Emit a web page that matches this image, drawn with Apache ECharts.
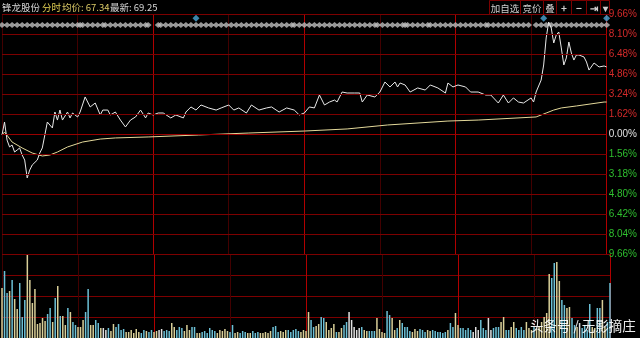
<!DOCTYPE html>
<html><head><meta charset="utf-8">
<script src="https://cdn.jsdelivr.net/npm/echarts@6/dist/echarts.min.js"></script>
<style>html,body{margin:0;padding:0;background:#000;}#c{width:640px;height:338px;}</style>
</head><body><div id="c"></div>
<script>
// ---- data ----
const stockName = '锋龙股份';
const modeText = '分时';
const avgPriceText = '67.34';
const lastPriceText = '69.25';
const watermarkText = '头条号 / 无影摘庄';

// price line (minute index, % change)
const priceMinutes = [0,1,2,3,4,5,6,7,8,9,10,11,12,14,15,16,17,18,20,21,22,23,24,26,27,28,30,31,33,35,37,39,40,42,43,45,47,49,51,53,55,57,58,60,62,64,67,69,72,73,75,77,79,82,85,87,90,92,94,97,99,102,105,107,110,113,116,118,120,122,124,126,128,130,132,133,135,137,140,142,143,145,148,150,152,154,156,157,158,160,162,165,168,170,173,176,177,179,181,184,186,189,192,194,197,199,201,203,205,207,210,211,212,214,215,216,217,218,219,220,221,222,223,224,225,226,227,228,229,231,232,233,235,237,239,240];
const pricePct = [-0.08,0.97,-0.49,-1.05,-0.89,-1.46,-1.30,-1.13,-1.70,-2.11,-3.56,-2.92,-2.51,-2.11,-1.54,-1.13,-0.08,0.97,0.49,1.78,1.13,1.94,1.13,1.78,1.30,1.70,1.38,1.78,3.00,2.19,2.51,1.54,1.94,1.94,1.54,1.78,1.13,0.57,1.13,1.38,1.94,1.30,1.70,1.54,1.70,1.70,1.30,1.54,1.30,1.78,2.19,1.94,2.35,2.11,1.94,2.11,2.35,1.94,2.11,1.70,2.35,1.94,2.11,2.19,1.78,2.11,1.94,1.54,1.70,2.19,2.11,3.16,2.35,2.59,2.75,2.59,3.40,3.32,3.32,3.32,2.59,3.16,3.00,3.40,4.21,3.81,4.21,3.81,4.13,3.97,3.40,3.73,3.56,3.97,3.73,3.32,4.13,3.81,3.97,3.81,3.40,3.40,3.16,3.16,2.51,3.16,2.51,2.92,2.59,2.51,2.92,2.59,3.40,4.37,5.59,7.78,9.07,8.59,7.37,8.02,8.26,6.97,5.59,6.16,7.45,6.56,5.99,6.40,6.40,6.24,5.83,5.18,5.75,5.43,5.51,5.43];

// average price line
const avgMinutes = [0,1,4,8,12,16,19,22,26,32,39,45,58,78,98,120,137,153,177,189,212,216,219,222,228,239,240];
const avgPct = [-0.08,0.16,-0.65,-1.13,-1.54,-1.78,-1.70,-1.46,-1.05,-0.65,-0.41,-0.32,-0.24,-0.08,0.08,0.24,0.41,0.73,1.05,1.13,1.38,1.70,1.94,2.11,2.27,2.59,2.59];

// volume per minute (0..240)
const volumes = [
50,67,45,47,58,39,29,55,21,38,84,58,35,49,14,15,20,17,24,30,16,40,52,22,22,13,30,26,16,13,11,11,18,26,49,13,13,18,15,
10,10,8,10,7,14,11,14,8,9,6,6,8,5,9,6,5,8,7,6,8,6,7,8,9,7,8,7,15,11,8,11,10,7,13,8,11,11,5,5,6,7,5,10,8,7,5,8,7,9,7,6,13,5,6,5,7,6,5,5,7,5,6,5,5,6,5,7,11,12,6,7,6,8,8,6,8,9,7,6,8,7,
26,18,11,12,14,
21,20,16,8,10,14,6,6,10,13,16,26,18,11,8,10,11,8,7,7,7,7,20,9,6,5,27,23,20,8,10,18,15,11,11,7,6,9,7,9,8,6,8,7,8,7,6,6,5,6,8,15,11,25,13,10,10,8,10,8,6,11,8,18,10,8,20,8,10,11,11,16,21,8,8,11,16,10,8,11,8,16,10,8,11,9,11,16,21,25,64,60,75,76,57,38,33,30,31,20,13,11,15,10,13,8,34,11,10,30,30,38,11,16,55
];

// right-axis tick labels, bottom to top
const pctTickLabels = ['9.66%','8.04%','6.42%','4.80%','3.18%','1.56%','0.00%','1.62%','3.24%','4.86%','6.48%','8.10%','9.66%'];

// event marker row (minute ranges) and highlighted news markers
const markerStarts = [0,28,32,43,47,51,57,62,65,105,116,120,151,161,172,195,212];
const markerEnds   = [26,31,41,45,49,55,58,63,103,115,118,149,160,170,193,209,240];
const newsMinutes = [77,215,240];

const headerButtons = ['加自选','竞价','叠','+','−','⇥','▾'];

// ---- build ----
const STEP = 1.62, YMAX = 9.72;
const priceData = priceMinutes.map((m,i)=>[m,pricePct[i]]);
const avgData = avgMinutes.map((m,i)=>[m,avgPct[i]]);

function dirAt(m){
  let i = 0;
  while (i < priceMinutes.length-2 && priceMinutes[i+1] <= m) i++;
  const d = pricePct[i+1]-pricePct[i];
  return d > 0 ? 1 : (d < 0 ? -1 : 0);
}
const UP='#d9cf98', DN='#6cc0d6', FLAT='#e2e2e2';
const volData = volumes.map((v,m)=>{
  const d = dirAt(m);
  return {value:[m,v], itemStyle:{color: d>0?UP:(d<0?DN:FLAT)}};
});

const markerData = [];
markerStarts.forEach((s,k)=>{
  const e = markerEnds[k];
  for (let m=s; m<=e; m+=2) markerData.push([m, 8.83]);
  if ((e-s)%2) markerData.push([e, 8.83]);
});
const newsData = newsMinutes.map(m=>[m, 9.38]);

const vColors = ['#420000','#420000','#b00000','#420000','#b00000','#420000','#b00000','#420000','#b00000'];
const hColors = pctTickLabels.map((t,i)=> i===6 ? '#9a0000' : '#7c0000');

const labelFont = '"Liberation Sans",Arial,sans-serif';

// header graphics
const cjk = '"Noto Sans CJK SC","Liberation Sans",sans-serif';
const hf = '9.5px ';
const graphics = [
  {type:'text', left:2, top:3, style:{text:stockName, fill:'#d6d6d6', font:hf+cjk}},
  {type:'text', left:42, top:3, style:{text:modeText, fill:'#e2cf52', font:hf+cjk}},
  {type:'text', left:62, top:3, style:{text:'均价: '+avgPriceText, fill:'#d9c866', font:hf+cjk}},
  {type:'text', left:110, top:3, style:{text:'最新: '+lastPriceText, fill:'#d6d6d6', font:hf+cjk}},
  {type:'text', x:530, y:319, z:100, style:{text:watermarkText, fill:'rgba(255,255,255,0.92)', font:'13.5px '+cjk}}
];
const btnX = [489,520,543,556,571,586,600];
const btnW = [31,23,13,15,15,14,9];
headerButtons.forEach((b,i)=>{
  graphics.push({type:'rect', shape:{x:btnX[i]+0.5,y:0.5,width:btnW[i],height:14}, style:{fill:'none',stroke:'#7a0000',lineWidth:1}, z:1});
  const bold = (b==='+'||b==='−'||b==='⇥'||b==='▾');
  graphics.push({type:'text', x:btnX[i]+btnW[i]/2+0.5, y:8, z:1, style:{text:b, fill:'#cfcfcf', align:'center', verticalAlign:'middle', font:(bold?'bold 10px ':'9.5px ')+cjk}});
});

const chart = echarts.init(document.getElementById('c'), null, {renderer:'canvas'});
chart.setOption({
  animation:false,
  backgroundColor:'#000',
  graphic: graphics,
  grid:[
    {left:2, right:30, top:14, height:240},
    {left:2, right:30, top:254, height:84}
  ],
  xAxis:[
    {gridIndex:0, type:'value', min:0, max:240, interval:30, axisLine:{show:false}, axisTick:{show:false}, axisLabel:{show:false},
     splitLine:{show:true, lineStyle:{color:vColors, width:1}}},
    {gridIndex:1, type:'value', min:0, max:240, interval:30, axisLine:{show:false}, axisTick:{show:false}, axisLabel:{show:false},
     splitLine:{show:true, lineStyle:{color:vColors, width:1}}}
  ],
  yAxis:[
    {gridIndex:0, type:'value', position:'right', min:-YMAX, max:YMAX, interval:STEP,
     axisLine:{show:false}, axisTick:{show:false}, z:10,
     splitLine:{show:true, lineStyle:{color:hColors, width:1}},
     axisLabel:{margin:2, fontSize:10, fontFamily:labelFont, align:'left',
       formatter:(v)=>{
         const i = Math.round((v+YMAX)/STEP);
         const t = pctTickLabels[i];
         if (i>6) return '{u|'+t+'}';
         if (i<6) return '{d|'+t+'}';
         return '{z|'+t+'}';
       },
       rich:{u:{color:'#d42a2a',fontSize:10,fontFamily:labelFont}, d:{color:'#2fbf2f',fontSize:10,fontFamily:labelFont}, z:{color:'#e0e0e0',fontSize:10,fontFamily:labelFont}}
     }},
    {gridIndex:1, type:'value', min:0, max:84, interval:21, position:'right',
     axisLine:{show:false}, axisTick:{show:false}, axisLabel:{show:false},
     splitLine:{show:true, lineStyle:{color:'#7c0000', width:1}}}
  ],
  series:[
    {type:'scatter', xAxisIndex:0, yAxisIndex:0, data:markerData, symbol:'diamond', symbolSize:[7,6],
     itemStyle:{color:'#bdbdbd'}, z:2, silent:true},
    {type:'scatter', xAxisIndex:0, yAxisIndex:0, data:newsData, symbol:'diamond', symbolSize:[7,7],
     itemStyle:{color:'#4aa6d6'}, z:2, silent:true},
    {type:'line', xAxisIndex:0, yAxisIndex:0, data:avgData, showSymbol:false, symbol:'none',
     lineStyle:{color:'#e3d89a', width:1}, z:3},
    {type:'line', xAxisIndex:0, yAxisIndex:0, data:priceData, showSymbol:false, symbol:'none',
     lineStyle:{color:'#e8e8e8', width:1}, z:4},
    {type:'bar', xAxisIndex:1, yAxisIndex:1, data:volData, barWidth:1.5, z:3}
  ]
});
</script>
</body></html>
